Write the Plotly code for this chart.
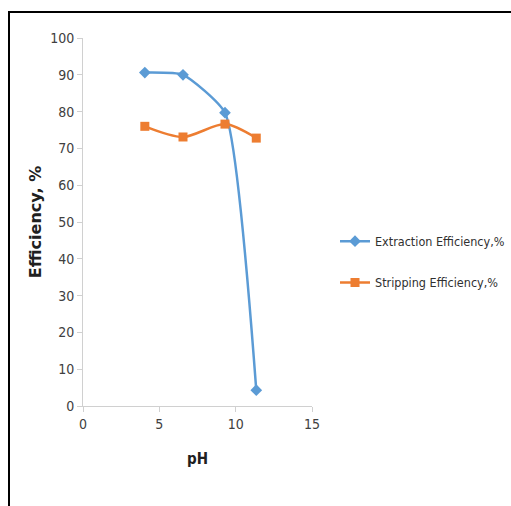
import plotly.graph_objects as go

# pH values and efficiencies (%)
ph = [4.05, 6.55, 9.3, 11.35]
extraction = [90.6, 90.0, 79.7, 4.3]
stripping = [76.0, 73.1, 76.6, 72.8]

x_ticks = [0, 5, 10, 15]
y_ticks = [0, 10, 20, 30, 40, 50, 60, 70, 80, 90, 100]

W, H = 511, 506
L, R, T, B = 83, 199, 38, 100
pw, ph_px = W - L - R, H - T - B

font_narrow = "DejaVu Sans Condensed, Liberation Sans Narrow, sans-serif"

fig = go.Figure()
fig.add_trace(go.Scatter(
    x=ph, y=extraction, mode="lines+markers", name="Extraction Efficiency,%",
    line=dict(color="#5B9BD5", width=2.5, shape="spline", smoothing=0.5),
    marker=dict(symbol="diamond", size=9, color="#5B9BD5"),
    legendgroup="a",
))
fig.add_trace(go.Scatter(
    x=ph, y=stripping, mode="lines+markers", name="Stripping Efficiency,%",
    line=dict(color="#ED7D31", width=2.5, shape="spline", smoothing=0.8),
    marker=dict(symbol="square", size=9, color="#ED7D31"),
    legendgroup="b",
))

# outer frame around the figure
fig.add_shape(type="rect", xref="paper", yref="paper",
              x0=(9 - L) / pw, x1=2.0,
              y0=-1.0, y1=(H - B - 12) / ph_px,
              line=dict(color="black", width=2), fillcolor="rgba(0,0,0,0)")

axis_common = dict(
    showgrid=False, zeroline=False, showline=True, linecolor="#d0d0d0", linewidth=1,
    ticks="outside", ticklen=5, tickcolor="#d0d0d0",
    tickfont=dict(family=font_narrow, size=14, color="#404040"),
)

fig.update_layout(
    width=W, height=H,
    margin=dict(l=L, r=R, t=T, b=B, autoexpand=False),
    paper_bgcolor="white", plot_bgcolor="white",
    xaxis=dict(range=[0, 15], tickvals=x_ticks, **axis_common,
               title=dict(text="<b>pH</b>", standoff=22,
                          font=dict(family=font_narrow, size=15, color="#202020"))),
    yaxis=dict(range=[0, 100], tickvals=y_ticks, **axis_common,
               title=dict(text="<b>Efficiency, %</b>", standoff=4,
                          font=dict(family="DejaVu Sans, sans-serif", size=16, color="#202020"))),
    legend=dict(x=(335 - L) / pw, y=(H - B - 262) / ph_px, xanchor="left", yanchor="middle",
                font=dict(family=font_narrow, size=12.5, color="#303030"),
                traceorder="grouped", tracegroupgap=22, bgcolor="rgba(0,0,0,0)"),
    showlegend=True,
)

fig.write_html("out.html")
